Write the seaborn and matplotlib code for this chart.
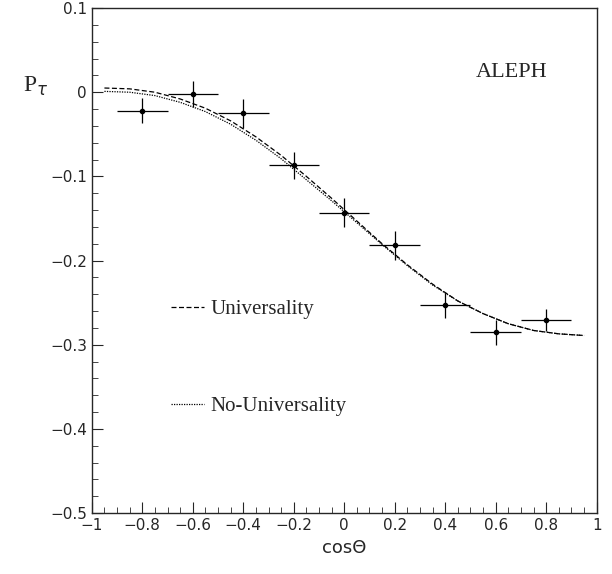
import matplotlib
matplotlib.use("Agg")
import matplotlib.pyplot as plt
import seaborn as sns
import pandas as pd

# data points
cos_x = [-0.8, -0.6, -0.4, -0.2, 0.0, 0.2, 0.4, 0.6, 0.8]
p_tau = [-0.022, -0.002, -0.025, -0.087, -0.143, -0.182, -0.253, -0.285, -0.271]
y_err = [0.015, 0.015, 0.017, 0.016, 0.017, 0.017, 0.015, 0.015, 0.013]
x_err = [0.1] * 9

# curves
curve_x = [-0.95, -0.85, -0.75, -0.65, -0.55, -0.45, -0.35, -0.25, -0.15, -0.05, 0.05, 0.15, 0.25, 0.35, 0.45, 0.55, 0.65, 0.75, 0.85, 0.95]
univ_y = [0.005, 0.004, 0.0, -0.008, -0.019, -0.034, -0.053, -0.075, -0.100, -0.126, -0.153, -0.180, -0.205, -0.228, -0.248, -0.263, -0.275, -0.283, -0.287, -0.289]
nouniv_y = [0.001, 0.0, -0.004, -0.012, -0.023, -0.038, -0.057, -0.079, -0.104, -0.129, -0.155, -0.181, -0.206, -0.229, -0.248, -0.263, -0.275, -0.283, -0.287, -0.289]

sns.set_style("ticks")
plt.rcParams['font.family'] = ['DejaVu Sans']
fig = plt.figure(figsize=(6.12, 5.74), dpi=100)
ax = fig.add_axes([0.150, 0.106, 0.825, 0.880])

df = pd.DataFrame({"x": curve_x * 2, "y": univ_y + nouniv_y,
                   "kind": ["Universality"] * len(curve_x) + ["No-Universality"] * len(curve_x)})
sns.lineplot(data=df, x="x", y="y", style="kind", color="black", lw=0.9,
             dashes={"Universality": (4, 2), "No-Universality": (1, 1)}, ax=ax, legend=False)
ax.errorbar(cos_x, p_tau, xerr=x_err, yerr=y_err, fmt='o', ms=3, color='black', elinewidth=0.9, capsize=0)

from matplotlib.lines import Line2D
h = [Line2D([], [], color='black', lw=0.9, ls=(0, (4, 2))), Line2D([], [], color='black', lw=0.9, ls=(0, (1, 1)))]
ax.legend(h, ["Universality", "No-Universality"], loc='upper left', bbox_to_anchor=(0.12, 0.46),
          frameon=False, labelspacing=3.7, handlelength=1.6, handletextpad=0.3,
          prop={'family': 'Liberation Serif', 'size': 15})

ax.set_xlim(-1, 1)
ax.set_ylim(-0.5, 0.1)
ax.set_xticks([-1, -0.8, -0.6, -0.4, -0.2, 0, 0.2, 0.4, 0.6, 0.8, 1])
ax.set_xticklabels(["−1", "−0.8", "−0.6", "−0.4", "−0.2", "0", "0.2", "0.4", "0.6", "0.8", "1"])
ax.set_yticks([-0.5, -0.4, -0.3, -0.2, -0.1, 0, 0.1])
ax.set_yticklabels(["−0.5", "−0.4", "−0.3", "−0.2", "−0.1", "0", "0.1"])
ax.tick_params(direction='in', length=8, labelsize=11, top=False, right=False)
ax.minorticks_on()
ax.tick_params(which='minor', direction='in', length=4)
ax.set_xlabel("cosΘ", fontsize=13)
ax.set_ylabel("")
fig.text(0.038, 0.84, r"P$_\tau$", fontsize=17, family='Liberation Serif')
ax.text(0.52, 0.018, "ALEPH", fontsize=16, family='Liberation Serif')
for s in ax.spines.values():
    s.set_linewidth(1.0)
fig.savefig("out.png", dpi=100)
